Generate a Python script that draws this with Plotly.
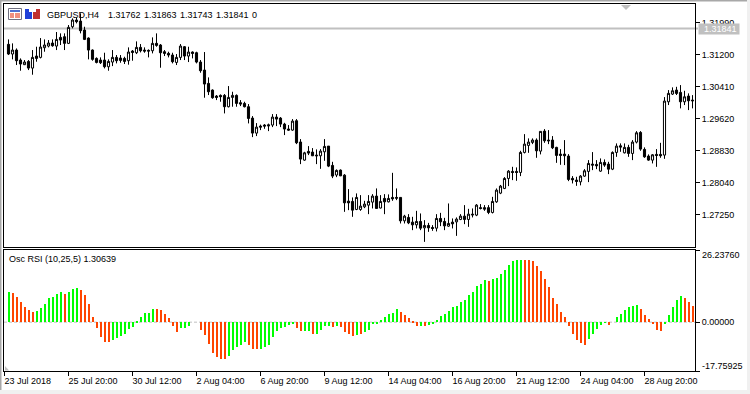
import plotly.graph_objects as go
from plotly.subplots import make_subplots

bar_index = list(range(172))

opens = [1.31451,1.31212,1.3131,1.31063,1.30949,1.3103,1.30865,1.31162,1.31129,1.31368,1.31409,1.31483,1.31409,1.31623,1.31639,1.31475,1.31886,1.32051,1.32026,1.31804,1.31606,1.3131,1.31104,1.31063,1.31063,1.30898,1.31014,1.31129,1.31113,1.31104,1.31047,1.31285,1.31244,1.31376,1.3131,1.31302,1.31293,1.31475,1.31434,1.31269,1.31228,1.31187,1.31005,1.31129,1.31392,1.31162,1.31261,1.31244,1.31014,1.30816,1.30487,1.30322,1.30174,1.30191,1.30191,1.29911,1.30141,1.30191,1.3001,1.29993,1.29911,
1.2963,1.2926,1.29433,1.29458,1.29465,1.29458,1.29655,1.2963,1.29482,1.2936,1.29334,1.29564,1.2904,1.28593,1.28808,1.28791,1.28717,1.287,1.28798,1.28939,1.28462,1.28224,1.28346,1.28222,1.2758,1.27573,1.27375,1.27375,1.2744,1.27481,1.27556,1.27704,1.2741,1.27647,1.27563,1.27672,1.27672,1.27672,1.27094,1.27178,1.27062,1.26995,1.27079,1.26921,1.2698,1.2693,1.26913,1.27153,1.27079,1.26963,1.27062,1.27069,1.27128,1.2721,1.27128,1.27259,1.27235,1.2742,1.2742,1.2742,1.27301,1.27563,
1.27778,1.27894,1.2814,1.28314,1.28314,1.28289,1.28783,1.28956,1.2903,1.29087,1.28815,1.29309,1.29087,1.29087,1.28907,1.28741,1.28741,1.28692,1.28141,1.28099,1.28057,1.28198,1.28314,1.28494,1.28487,1.28321,1.28536,1.28494,1.2837,1.28783,1.28946,1.28773,1.28907,1.28758,1.29038,1.29277,1.28857,1.28692,1.28593,1.28734,1.28734,1.28717,1.30033,1.30223,1.30322,1.30265,1.30033,1.30174,1.30075]

highs = [1.31573,1.31475,1.3135,1.31104,1.31063,1.31063,1.3131,1.31392,1.31606,1.31573,1.31557,1.31573,1.31755,1.31722,1.31722,1.31928,1.32092,1.32117,1.32216,1.31886,1.31623,1.31326,1.31129,1.31129,1.31244,1.3108,1.3131,1.31187,1.31187,1.31145,1.31376,1.3131,1.31524,1.31458,1.31376,1.31326,1.31623,1.31722,1.31458,1.3131,1.31269,1.31244,1.31211,1.31458,1.31409,1.31392,1.31277,1.31269,1.31063,1.31261,1.30635,1.30339,1.30199,1.30215,1.30224,1.30421,1.30281,1.30215,1.30075,1.30034,1.29977,
1.2968,1.29507,1.2947,1.29482,1.29495,1.29729,1.29729,1.29655,1.29514,1.29458,1.29606,1.29606,1.29112,1.28798,1.28939,1.2889,1.28857,1.28865,1.29112,1.28939,1.28551,1.28363,1.28363,1.28247,1.27877,1.27672,1.27771,1.27729,1.27588,1.27729,1.27753,1.27894,1.27729,1.27753,1.27746,1.28279,1.27894,1.27672,1.27242,1.2726,1.27193,1.27341,1.27276,1.27111,1.27044,1.26988,1.27259,1.27291,1.27168,1.27523,1.27153,1.27178,1.27259,1.27482,1.2739,1.274,1.27507,1.27507,1.27482,1.27482,1.27686,1.27894,
1.2798,1.28173,1.28346,1.28428,1.28413,1.28823,1.29235,1.29129,1.29129,1.29129,1.29302,1.29359,1.29334,1.29186,1.28922,1.28865,1.29087,1.28741,1.28198,1.28181,1.28222,1.28371,1.28593,1.28791,1.28593,1.28635,1.2861,1.28551,1.28808,1.29005,1.29005,1.29005,1.28971,1.29087,1.29309,1.29309,1.28907,1.28734,1.28741,1.28865,1.2902,1.30149,1.30322,1.30389,1.30403,1.30445,1.30305,1.30241,1.30198]

lows = [1.31187,1.3108,1.3094,1.308,1.3094,1.30816,1.30701,1.31022,1.31104,1.31269,1.31376,1.31392,1.3131,1.31434,1.3131,1.31458,1.31845,1.31969,1.31722,1.31557,1.3108,1.31047,1.30981,1.30965,1.30857,1.308,1.30914,1.30981,1.30997,1.30965,1.30949,1.31047,1.31211,1.31252,1.31244,1.31129,1.31228,1.31392,1.30874,1.31162,1.31129,1.30981,1.3094,1.31063,1.31063,1.31014,1.31104,1.30981,1.3075,1.30133,1.30199,1.30108,1.30075,1.30034,1.29746,1.29894,1.29911,1.29911,1.29927,1.29894,1.29499,
1.29161,1.29186,1.29334,1.29366,1.29309,1.29408,1.29433,1.29408,1.29211,1.29317,1.29317,1.28988,1.28494,1.28576,1.28717,1.28692,1.28494,1.28378,1.28576,1.2842,1.28148,1.28173,1.28198,1.27316,1.27358,1.27193,1.27358,1.27341,1.27407,1.27259,1.274,1.274,1.274,1.27259,1.27548,1.27588,1.27605,1.27029,1.27029,1.27012,1.26864,1.26906,1.26864,1.26575,1.26822,1.26847,1.26832,1.26963,1.26864,1.26945,1.26906,1.26723,1.27111,1.27012,1.26945,1.27178,1.2721,1.27375,1.27341,1.27259,1.27276,1.27538,
1.27753,1.27877,1.27951,1.28099,1.28082,1.28198,1.28758,1.28773,1.28988,1.2865,1.28734,1.2902,1.28988,1.28865,1.28526,1.28477,1.2847,1.28074,1.28017,1.27958,1.2797,1.28181,1.2805,1.28346,1.2837,1.28304,1.28427,1.28247,1.28346,1.28674,1.28798,1.28758,1.28674,1.28593,1.29005,1.28823,1.2865,1.28576,1.28511,1.28427,1.2865,1.28625,1.29952,1.302,1.302,1.2987,1.29952,1.29828,1.2987]

closes = [1.31212,1.3131,1.31047,1.30965,1.31014,1.30865,1.31129,1.31104,1.31384,1.31434,1.31483,1.31417,1.31573,1.31557,1.31475,1.3187,1.32051,1.3201,1.31788,1.31573,1.3131,1.3108,1.31005,1.30997,1.30898,1.3103,1.31129,1.31047,1.31055,1.3103,1.31261,1.31252,1.31376,1.31293,1.31285,1.31285,1.31475,1.31425,1.31244,1.31228,1.31187,1.31022,1.31129,1.31409,1.31162,1.31261,1.31228,1.31014,1.308,1.30471,1.30281,1.30133,1.30141,1.30158,1.29911,1.30141,1.30191,1.29993,1.29977,1.29911,1.29622,
1.2926,1.29408,1.29408,1.29433,1.2944,1.29655,1.29606,1.29482,1.2936,1.29334,1.29556,1.29021,1.28618,1.28773,1.28766,1.287,1.287,1.28815,1.28931,1.28445,1.28198,1.28339,1.28205,1.27538,1.27538,1.27358,1.27672,1.27457,1.27506,1.27573,1.27704,1.274,1.27573,1.27563,1.27647,1.27637,1.27654,1.27094,1.2721,1.27044,1.26995,1.27079,1.26913,1.2698,1.26921,1.26906,1.27153,1.2707,1.2697,1.2703,1.2702,1.27136,1.2721,1.27128,1.27259,1.27242,1.27482,1.274,1.27383,1.27301,1.27573,1.27852,
1.27951,1.2814,1.28321,1.28289,1.28289,1.28783,1.28988,1.29038,1.29087,1.28823,1.29302,1.2907,1.2907,1.28897,1.28709,1.28709,1.287,1.28116,1.28106,1.28067,1.28198,1.28329,1.28511,1.2847,1.28452,1.28536,1.2847,1.2837,1.28783,1.28939,1.28914,1.28907,1.28758,1.29038,1.29267,1.28865,1.28674,1.28593,1.28724,1.28709,1.287,1.3005,1.30241,1.30305,1.3024,1.30033,1.30156,1.30058,1.30058]

osc_values = [11.01,10.65,9.32,7.38,5.69,4.48,3.87,4.24,5.20,6.66,8.83,9.20,10.29,11.01,10.41,11.01,12.22,12.46,11.62,10.04,6.66,1.94,-2.30,-5.32,-7.38,-7.38,-6.66,-5.93,-5.08,-4.24,-2.42,-1.69,0.48,1.94,3.39,3.39,4.84,4.96,4.36,3.03,1.57,-1.57,-3.51,-2.30,-2.30,-1.33,0,0,
-2.90,-4.60,-7.87,-11.13,-12.58,-13.31,-13.55,-12.46,-10.29,-9.20,-8.23,-7.26,-8.23,
-9.68,-9.68,-9.68,-9.08,-8.23,-5.32,-3.39,-2.30,-1.94,-1.21,-0.73,-2.06,-3.15,-3.15,-3.15,-4.24,-4.24,-2.90,-1.33,-1.33,-1.69,-1.33,-1.69,-3.51,-4.48,-4.96,-4.60,-4.48,-3.75,-3.03,-0.61,-0.36,0.73,1.82,2.90,3.39,4.84,3.63,2.66,1.45,0.12,-1.33,-1.33,-1.33,-0.85,-0.36,0.73,2.42,2.90,4.11,5.45,5.81,7.26,8.11,9.80,11.13,13.07,13.92,15.37,15.00,15.73,16.09,17.55,
19.12,20.93,22.39,22.63,22.63,22.63,22.63,22.14,20.33,18.63,15.85,12.83,8.95,6.66,3.75,1.94,-1.57,-4.24,-6.66,-7.50,-8.23,-6.05,-4.24,-2.42,-0.97,-0.12,-0.97,0,1.94,3.03,4.36,5.57,5.93,6.29,4.96,2.66,1.21,-0.61,-2.78,-3.15,-0.61,2.66,5.69,7.99,9.56,8.83,7.38,5.93]

osc_state = list(
    "G" + "R"*6 + "G"*7 + "R" + "G"*3 + "R"*8 + "G"*11 + "R"*6 + "G"*5 + "R"*7 + "G"*5 + "R"*3 + "G"*9
    + "R"*2 + "G"*2 + "R" + "G"*4 + "R" + "G" + "R"*4 + "G" + "R" + "G"*9 + "R"*5 + "G" + "R" + "G"*15
    + "R" + "G"*8 + "R"*16 + "G"*5 + "R" + "G"*7 + "R"*6 + "G"*5 + "R"*3)

tick_index = [-1, 15, 31, 47, 63, 79, 95, 111, 127, 143, 159]
tick_labels = ["23 Jul 2018", "25 Jul 20:00", "30 Jul 12:00", "2 Aug 04:00", "6 Aug 20:00", "9 Aug 12:00",
               "14 Aug 04:00", "16 Aug 20:00", "21 Aug 12:00", "24 Aug 04:00", "28 Aug 20:00"]
price_ticks = [1.31990, 1.31200, 1.30410, 1.29620, 1.28830, 1.28040, 1.27250]
osc_ticks = [-17.75925, 0.0, 26.23760]
current_price = 1.31841
price_range = [1.26448, 1.32447]
osc_range = [-17.75925, 26.23760]
header_texts = ["GBPUSD,H4", "1.31762", "1.31863", "1.31743", "1.31841", "0"]

assert all(len(a) == 172 for a in (opens, highs, lows, closes, osc_values, osc_state))

W, H = 750, 394
L, R, T, B = 4, 55, 4, 23
PW, PH = W - L - R, H - T - B
FONT = "Liberation Sans"
GREY = "#c0c0c0"

def px(x):
    return (x - L) / PW

def py(y):
    return 1 - (y - T) / PH

fig = make_subplots(rows=2, cols=1, shared_xaxes=True, vertical_spacing=0)

fig.add_trace(go.Candlestick(
    x=bar_index, open=opens, high=highs, low=lows, close=closes,
    increasing=dict(line=dict(color="#000000", width=1), fillcolor="#ffffff"),
    decreasing=dict(line=dict(color="#000000", width=1), fillcolor="#000000"),
    whiskerwidth=0, hoverinfo="skip", showlegend=False), row=1, col=1)

fig.add_trace(go.Bar(
    x=bar_index, y=osc_values, width=0.5,
    marker=dict(color=["#00ff00" if s == "G" else "#ff4500" for s in osc_state], line=dict(width=0)),
    hoverinfo="skip", showlegend=False), row=2, col=1)

axis_style = dict(showgrid=False, zeroline=False, showline=True, mirror=True, linecolor="#000000", linewidth=1)
tick_font = dict(family=FONT, size=9, color="#000000")

fig.update_xaxes(range=[-1.125, 171.625], rangeslider=dict(visible=False), **axis_style)
fig.update_xaxes(showticklabels=False, ticks="", row=1, col=1)
fig.update_xaxes(tickmode="array", tickvals=tick_index, ticktext=tick_labels, ticks="outside",
                 ticklen=4, tickwidth=1, tickcolor="#000000", tickfont=tick_font, tickangle=0,
                 ticklabelposition="outside right", ticklabelshift=-1, ticklabelstandoff=1,
                 showticklabels=True, row=2, col=1)
fig.update_yaxes(range=price_range, side="right", tickmode="array", tickvals=price_ticks,
                 tickformat=".5f", ticks="outside", ticklen=4, tickwidth=1, tickcolor="#000000",
                 tickfont=tick_font, **axis_style, row=1, col=1)
fig.update_yaxes(range=osc_range, side="right", tickmode="array", tickvals=osc_ticks,
                 ticktext=["", "0.00000", ""], ticks="outside", ticklen=4, tickwidth=1,
                 tickcolor="#000000", tickfont=tick_font, **axis_style, row=2, col=1)

fig.layout.yaxis.domain = [(371 - 247) / PH, 1]
fig.layout.yaxis2.domain = [0, (371 - 250) / PH]


def text(x, y, s, anchor="left", **kw):
    fig.add_annotation(xref="paper", yref="paper", x=px(x), y=py(y), text=s, showarrow=False,
                       xanchor=anchor, yanchor="middle", xshift=0, borderpad=0,
                       font=dict(family=FONT, size=kw.pop("size", 9), color=kw.pop("color", "#000000")), **kw)


for x_pos, label in zip([46, 106.5, 142.5, 178.5, 214.5, 250.5], header_texts):
    text(x_pos, 14.5, label)
text(8, 258.5, "Osc RSI (10,25,5) 1.30639")
text(701, 255, "26.23760")
text(701, 366, "-17.75925")
text(698, 28.5, "\u00a0\u00a01.31841\u00a0", bgcolor=GREY, color="#ffffff")

shapes = [
    dict(type="line", xref="paper", yref="y", x0=0, x1=px(698), y0=current_price, y1=current_price,
         line=dict(color=GREY, width=2), layer="below"),
    dict(type="line", xref="paper", yref="y2", x0=0, x1=px(698), y0=0, y1=0,
         line=dict(color=GREY, width=1, dash="3px,2px"), layer="below"),
]


def rect(x0, y0, x1, y1, fill, line=None, layer="above"):
    shapes.append(dict(type="rect", xref="paper", yref="paper", x0=px(x0), x1=px(x1), y0=py(y0), y1=py(y1),
                       fillcolor=fill, line=dict(width=1 if line else 0, color=line or fill), layer=layer))


rect(0, 0, 750, 1.5, "#a8a8a8")
rect(0, 0, 1.5, 394, "#a8a8a8")
rect(0, 390, 750, 394, "#f0f0f0")
rect(747, 0, 750, 394, "#f0f0f0")
rect(8.5, 8.5, 21.5, 19.5, "#ffffff", "#707080")
rect(10, 10, 20, 12, "#5070d0")
rect(10, 13, 14, 18, "#f09080")
rect(15, 13, 20, 18, "#f09080")
rect(25, 9, 32, 19, "#2040d8")
rect(33, 9, 40, 19, "#c03030")
rect(29, 8, 36, 12, "#ffffff")
shapes.append(dict(type="path", xref="paper", yref="paper",
                   path=f"M {px(621)} {py(5)} L {px(631)} {py(5)} L {px(626)} {py(10)} Z",
                   fillcolor=GREY, line=dict(width=0)))
shapes.append(dict(type="path", xref="paper", yref="paper",
                   path=f"M {px(5)} {py(366)} L {px(9)} {py(370.5)} L {px(5)} {py(370.5)} Z",
                   fillcolor=GREY, line=dict(width=0)))

fig.update_layout(width=W, height=H, autosize=False, margin=dict(l=L, r=R, t=T, b=B, autoexpand=False),
                  paper_bgcolor="#ffffff", plot_bgcolor="rgba(0,0,0,0)", showlegend=False,
                  shapes=shapes, boxgap=0.25, bargap=0)

fig.write_html("out.html", config=dict(displayModeBar=False),
               post_script="document.body.style.margin='0';document.body.style.overflow='hidden';")
